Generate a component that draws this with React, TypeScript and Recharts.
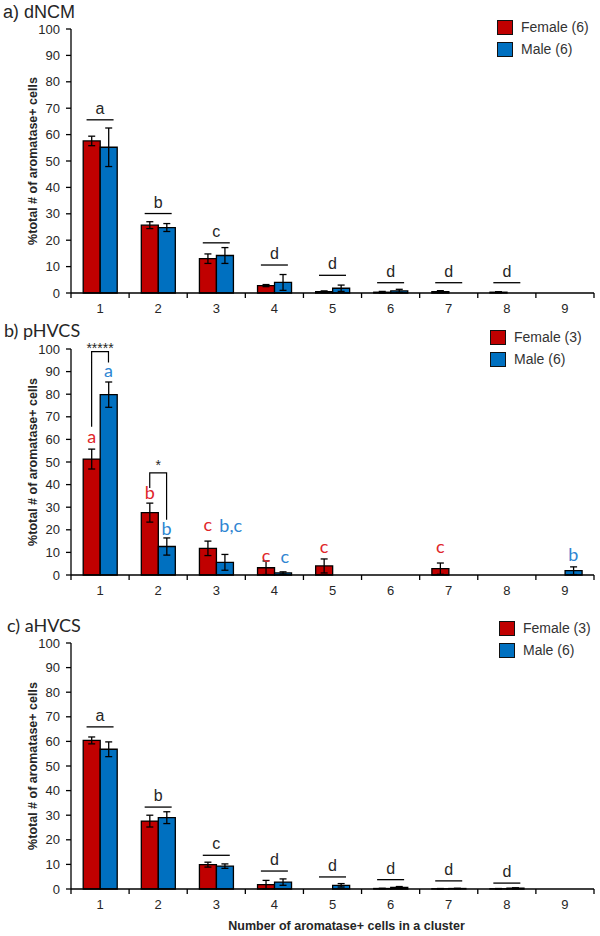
import React from "react";
import { BarChart, Bar, XAxis, YAxis, ErrorBar, ReferenceDot } from "recharts";

// cluster size categories
const clusters = ["1", "2", "3", "4", "5", "6", "7", "8", "9"];
const yTicks = [0, 10, 20, 30, 40, 50, 60, 70, 80, 90, 100];

// a) dNCM
const aFemale = [57.6, 25.7, 13.0, 2.8, 0.5, 0.3, 0.5, 0.3, 0];
const aFemaleErr = [1.8, 1.3, 1.8, 0.4, 0.3, 0.3, 0.4, 0.2, 0];
const aMale = [55.2, 24.8, 14.2, 4.0, 1.8, 0.8, 0, 0, 0];
const aMaleErr = [7.3, 1.5, 3.0, 3.0, 1.2, 0.6, 0, 0, 0];
const aLetters = ["a", "b", "c", "d", "d", "d", "d", "d", ""];
const aLineY = [65.6, 30.1, 19.0, 10.6, 6.7, 3.9, 3.9, 3.9, 0];

// b) pHVCS
const bFemale = [51.3, 27.6, 11.8, 3.2, 4.0, 0, 2.8, 0, 0];
const bFemaleErr = [4.4, 4.2, 3.2, 3.0, 3.1, 0, 2.5, 0, 0];
const bMale = [79.8, 12.6, 5.6, 0.9, 0, 0, 0, 0, 1.9];
const bMaleErr = [5.6, 3.8, 3.5, 0.5, 0, 0, 0, 0, 1.7];
const bFemaleLetters = ["a", "b", "c", "c", "c", "", "c", "", ""];
const bFemaleLetterY = [60.7, 35.7, 21.7, 8.1, 11.8, 0, 11.8, 0, 0];
const bMaleLetters = ["a", "b", "b,c", "c", "", "", "", "", "b"];
const bMaleLetterY = [90, 19.9, 21.4, 7.4, 0, 0, 0, 0, 8.4];
const bMaleLetterDx = [0, 0, 6, 2, 0, 0, 0, 0, 0];
// significance brackets between sexes
const bracketCats = ["1", "2"];
const bracketTop = [98.8, 45.2];
const bracketLeftEnd = [65.6, 38.5];
const bracketRightEnd = [94, 24.4];
const bracketStars = ["*****", "*"];
const bracketStarY = [101.6, 49.8];

// c) aHVCS
const cFemale = [60.4, 27.6, 9.9, 1.8, 0, 0.2, 0.1, 0.1, 0];
const cFemaleErr = [1.4, 2.4, 1.0, 1.7, 0, 0.1, 0.1, 0.1, 0];
const cMale = [56.8, 29.0, 9.3, 2.8, 1.5, 0.6, 0.2, 0.3, 0];
const cMaleErr = [3.0, 2.4, 0.9, 1.3, 0.7, 0.4, 0.1, 0.2, 0];
const cLetters = ["a", "b", "c", "d", "d", "d", "d", "d", ""];
const cLineY = [65.9, 33.3, 13.7, 7.3, 4.9, 3.8, 3.3, 2.4, 0];

const RED = "#C00000";
const BLUE = "#0070C0";
const RED_TXT = "#E0262A";
const BLUE_TXT = "#2F86D2";
const FONT = "Liberation Sans, Arial, sans-serif";

const W = 600;
const Y_W = 71;
const M_RIGHT = 6;
const GAP = 0.21;
const BAND = (W - Y_W - M_RIGHT) / clusters.length;
const HALF_BAR = (BAND * (1 - 2 * GAP)) / 4;

function rows(f: number[], fe: number[], m: number[], me: number[]) {
  return clusters.map((c, i) => ({ cluster: c, female: f[i], femaleErr: fe[i], male: m[i], maleErr: me[i] }));
}

const XTick = (props: any) => {
  const { x, y, payload, index } = props;
  const h = BAND / 2;
  return (
    <g>
      <line x1={x - h} x2={x - h} y1={y} y2={y + 5} stroke="#000" strokeWidth={1.3} />
      {index === clusters.length - 1 && (
        <line x1={x + h} x2={x + h} y1={y} y2={y + 5} stroke="#000" strokeWidth={1.3} />
      )}
      <text x={x} y={y + 20} textAnchor="middle" fontSize={13} fontFamily={FONT} fill="#262626">
        {payload.value}
      </text>
    </g>
  );
};

const yLabel = (props: any) => {
  const vb = props.viewBox;
  const cy = vb.y + vb.height / 2;
  return (
    <text
      x={37}
      y={cy}
      transform={`rotate(-90 37 ${cy})`}
      textAnchor="middle"
      fontSize={12.5}
      fontWeight="bold"
      fontFamily={FONT}
      fill="#262626"
    >
      %total # of aromatase+ cells
    </text>
  );
};

const xTitle = (props: any) => {
  const vb = props.viewBox;
  return (
    <text
      x={vb.x + vb.width / 2 + 14}
      y={vb.y + 41}
      textAnchor="middle"
      fontSize={12.5}
      fontWeight="bold"
      fontFamily={FONT}
      fill="#262626"
    >
      Number of aromatase+ cells in a cluster
    </text>
  );
};

function letterLine(letter: string) {
  return (p: any) => (
    <g>
      <line x1={p.cx - 13.5} x2={p.cx + 13.5} y1={p.cy} y2={p.cy} stroke="#000" strokeWidth={1.3} />
      <text x={p.cx} y={p.cy - 6} textAnchor="middle" fontSize={16} fontFamily={FONT} fill="#262626">
        {letter}
      </text>
    </g>
  );
}

function colorLetter(letter: string, dx: number, color: string) {
  return (p: any) => (
    <text x={p.cx + dx} y={p.cy + 5} textAnchor="middle" fontSize={18} fontFamily="Lato, sans-serif" fill={color}>
      {letter}
    </text>
  );
}

function bracket(i: number, pxPerUnit: number) {
  return (p: any) => {
    const l = p.cx - HALF_BAR;
    const r = p.cx + HALF_BAR;
    const yl = p.cy + (bracketTop[i] - bracketLeftEnd[i]) * pxPerUnit;
    const yr = p.cy + (bracketTop[i] - bracketRightEnd[i]) * pxPerUnit;
    const ys = p.cy - (bracketStarY[i] - bracketTop[i]) * pxPerUnit;
    return (
      <g>
        <path d={`M${l},${yl}V${p.cy}H${r}V${yr}`} fill="none" stroke="#000" strokeWidth={1.2} />
        <text x={p.cx} y={ys + 8} textAnchor="middle" fontSize={14} fontFamily={FONT} fill="#262626">
          {bracketStars[i]}
        </text>
      </g>
    );
  };
}

type PanelProps = {
  top: number;
  height: number;
  marginTop: number;
  xAxisH: number;
  data: any[];
  children?: React.ReactNode;
  withTitle?: boolean;
};

function Panel({ top, height, marginTop, xAxisH, data, children, withTitle }: PanelProps) {
  return (
    <div style={{ position: "absolute", left: 0, top }}>
      <BarChart
        width={W}
        height={height}
        data={data}
        margin={{ top: marginTop, right: M_RIGHT, left: 0, bottom: 0 }}
        barCategoryGap={`${GAP * 100}%`}
        barGap={0}
      >
        <XAxis
          dataKey="cluster"
          height={xAxisH}
          tickLine={false}
          tickSize={0}
          tickMargin={0}
          tick={<XTick />}
          interval={0}
          axisLine={{ stroke: "#000", strokeWidth: 1.3 }}
          label={withTitle ? { content: xTitle } : undefined}
        />
        <YAxis
          width={Y_W}
          domain={[0, 100]}
          ticks={yTicks}
          interval={0}
          tickSize={5}
          tickMargin={6}
          tick={{ fontSize: 13, fill: "#262626", fontFamily: FONT }}
          tickLine={{ stroke: "#000", strokeWidth: 1.3 }}
          axisLine={{ stroke: "#000", strokeWidth: 1.3 }}
          label={{ content: yLabel }}
        />
        <Bar dataKey="female" fill={RED} stroke="#000" strokeWidth={1.3} isAnimationActive={false}>
          <ErrorBar dataKey="femaleErr" width={3.5} stroke="#000" strokeWidth={1.3} />
        </Bar>
        <Bar dataKey="male" fill={BLUE} stroke="#000" strokeWidth={1.3} isAnimationActive={false}>
          <ErrorBar dataKey="maleErr" width={3.5} stroke="#000" strokeWidth={1.3} />
        </Bar>
        {children}
      </BarChart>
    </div>
  );
}

function LegendBox({ left, top, labels }: { left: number; top: number; labels: string[] }) {
  const colors = [RED, BLUE];
  return (
    <div style={{ position: "absolute", left, top, fontFamily: FONT, fontSize: 14, color: "#333" }}>
      {labels.map((l, i) => (
        <div key={l} style={{ display: "flex", alignItems: "center", height: 16, marginBottom: 6 }}>
          <span
            style={{
              width: 14,
              height: 13,
              background: colors[i],
              border: "1.5px solid #111",
              display: "inline-block",
            }}
          />
          <span style={{ marginLeft: 8 }}>{l}</span>
        </div>
      ))}
    </div>
  );
}

export default function App() {
  const aData = rows(aFemale, aFemaleErr, aMale, aMaleErr);
  const bData = rows(bFemale, bFemaleErr, bMale, bMaleErr);
  const cData = rows(cFemale, cFemaleErr, cMale, cMaleErr);
  const bPx = (600 - 318 - 31 - 25) / 100;

  return (
    <div style={{ position: "fixed", left: 0, top: 0, width: 600, height: 936, background: "#fff", overflow: "hidden" }}>
      <Panel top={0} height={318} marginTop={29} xAxisH={25} data={aData}>
        {clusters.map((c, i) =>
          aLetters[i] ? (
            <ReferenceDot key={c} x={c} y={aLineY[i]} ifOverflow="visible" shape={letterLine(aLetters[i])} />
          ) : null
        )}
      </Panel>
      <Panel top={318} height={282} marginTop={31} xAxisH={25} data={bData}>
        {clusters.map((c, i) =>
          bFemaleLetters[i] ? (
            <ReferenceDot
              key={"f" + c}
              x={c}
              y={bFemaleLetterY[i]}
              ifOverflow="visible"
              shape={colorLetter(bFemaleLetters[i], -HALF_BAR, RED_TXT)}
            />
          ) : null
        )}
        {clusters.map((c, i) =>
          bMaleLetters[i] ? (
            <ReferenceDot
              key={"m" + c}
              x={c}
              y={bMaleLetterY[i]}
              ifOverflow="visible"
              shape={colorLetter(bMaleLetters[i], HALF_BAR + bMaleLetterDx[i], BLUE_TXT)}
            />
          ) : null
        )}
        {bracketCats.map((c, i) => (
          <ReferenceDot key={"br" + c} x={c} y={bracketTop[i]} ifOverflow="visible" shape={bracket(i, bPx)} />
        ))}
      </Panel>
      <Panel top={600} height={336} marginTop={43} xAxisH={47} data={cData} withTitle>
        {clusters.map((c, i) =>
          cLetters[i] ? (
            <ReferenceDot key={c} x={c} y={cLineY[i]} ifOverflow="visible" shape={letterLine(cLetters[i])} />
          ) : null
        )}
      </Panel>

      <svg width={600} height={936} style={{ position: "absolute", left: 0, top: 0, pointerEvents: "none" }}>
        <text x={3} y={18} fontSize={18} fontFamily={FONT} fill="#262626">
          a) dNCM
        </text>
        <text x={4} y={337} fontSize={18} fontFamily="Lato, sans-serif" fill="#262626">
          b) pHVCS
        </text>
        <text x={7} y={632} fontSize={18} fontFamily="Lato, sans-serif" fill="#262626">
          c) aHVCS
        </text>
      </svg>

      <LegendBox left={497} top={19} labels={["Female (6)", "Male (6)"]} />
      <LegendBox left={490} top={329} labels={["Female (3)", "Male (6)"]} />
      <LegendBox left={499} top={620} labels={["Female (3)", "Male (6)"]} />
    </div>
  );
}
